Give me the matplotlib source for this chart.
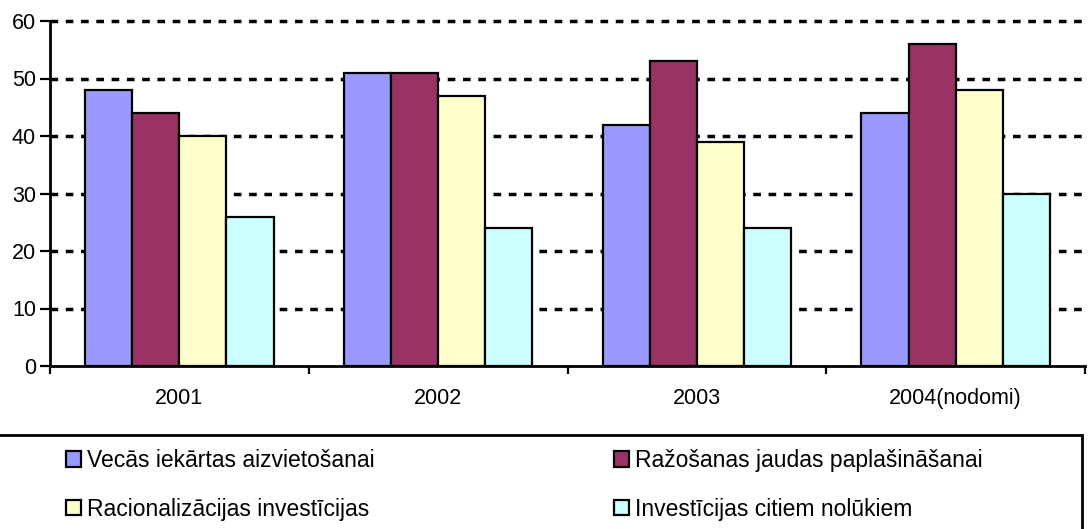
import numpy as np
import matplotlib.pyplot as plt
from matplotlib.patches import Rectangle, Patch

plt.rcParams['font.family'] = ['Liberation Sans', 'DejaVu Sans']

years = ['2001', '2002', '2003', '2004(nodomi)']
series_names = ['Vecās iekārtas aizvietošanai',
                'Ražošanas jaudas paplašināšanai',
                'Racionalizācijas investīcijas',
                'Investīcijas citiem nolūkiem']
vecas = [48, 51, 42, 44]
razosanas = [44, 51, 53, 56]
racionalizacijas = [40, 47, 39, 48]
citiem = [26, 24, 24, 30]
colors = ['#9999FF', '#993366', '#FFFFCC', '#CCFFFF']

values = [vecas, razosanas, racionalizacijas, citiem]

fig = plt.figure(figsize=(10.88, 5.29), dpi=100)
ax = fig.add_axes([50 / 1088, 1 - 366 / 529, 1035 / 1088, 345 / 529])

x = np.arange(len(years))
w = 0.182
for i, (vals, col) in enumerate(zip(values, colors)):
    ax.bar(x + (i - 1.5) * w, vals, w, color=col, edgecolor='black',
           linewidth=1.6, zorder=3)

ax.set_xlim(-0.5, 3.5)
ax.set_ylim(0, 60)
ax.set_yticks(range(0, 61, 10))
ax.set_xticks(x)
ax.set_xticklabels(years)
ax.set_xticks(np.arange(-0.5, 3.6, 1), minor=True)
ax.tick_params(axis='x', which='major', length=0, pad=16, labelsize=15.5)
ax.tick_params(axis='x', which='minor', length=6, width=1.6, direction='out')
ax.tick_params(axis='y', length=7, width=1.6, direction='out', pad=3,
               labelsize=15.5)

# dashed grid lines
for v in range(10, 61, 10):
    ax.axhline(v, color='black', linewidth=2.5, linestyle=(0, (2.2, 2.2)),
               zorder=1, clip_on=False)

for s in ['top', 'right']:
    ax.spines[s].set_visible(False)
for s in ['left', 'bottom']:
    ax.spines[s].set_linewidth(2)

# legend frame
fig.patches.append(Rectangle((-0.01, -0.05), 1082 / 1088 + 0.01, 0.05 + 1 - 435 / 529,
                             transform=fig.transFigure, fill=False,
                             edgecolor='black', linewidth=2))

handles = [Patch(facecolor=c, edgecolor='black', linewidth=1.6) for c in colors]
leg_kw = dict(frameon=False, fontsize=16.5, handlelength=0.66, handleheight=0.66,
              handletextpad=0.26, labelspacing=1.12, borderpad=0,
              borderaxespad=0, loc='upper left')
leg1 = fig.legend([handles[0], handles[2]], [series_names[0], series_names[2]],
                  bbox_to_anchor=(66 / 1088, 1 - 449 / 529), **leg_kw)
leg2 = fig.legend([handles[1], handles[3]], [series_names[1], series_names[3]],
                  bbox_to_anchor=(614 / 1088, 1 - 449 / 529), **leg_kw)

fig.savefig('out.png', dpi=100)
